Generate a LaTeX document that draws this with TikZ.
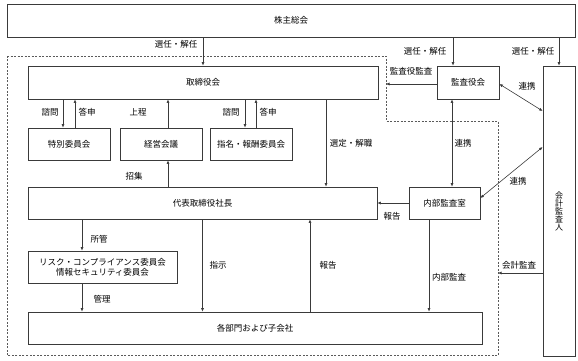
\documentclass[tikz,border=0pt]{standalone}
\usepackage{fontspec}
\setmainfont{Noto Sans CJK JP}
\usetikzlibrary{positioning,arrows.meta,calc}
\definecolor{cLine}{HTML}{3A3A3A}
\definecolor{cFrame}{HTML}{5A5A5A}
\tikzset{
  box/.style={draw=cLine, line width=0.7pt, fill=white, inner sep=0pt,
              font=\fontsize{8.5}{10}\selectfont, align=center},
  flow/.style={-{Latex[length=3.5pt,width=3pt]}, line width=0.6pt, draw=cLine},
  twoway/.style={{Latex[length=3.5pt,width=3pt]}-{Latex[length=3.5pt,width=3pt]},
                 line width=0.6pt, draw=cLine},
  lbl/.style={font=\fontsize{8.5}{10}\selectfont, inner sep=0pt},
  frame/.style={draw=cFrame, line width=0.6pt, dash pattern=on 2pt off 1.5pt},
}

\begin{document}
\begin{tikzpicture}[x=1pt, y=-1pt]
\useasboundingbox (0,0) rectangle (578,360);

% ========== 監査の枠 ==========
\draw[frame] (7,56) -- (386,56) -- (386,121) -- (498,121) -- (498,355) -- (7,355) -- cycle;
\coordinate (kanHit) at (386,84);
\coordinate (accHit) at (498,273);

% ========== 箱 ==========
\node[box, minimum width=568pt, minimum height=33pt] (sh) at (291,20.5) {株主総会};
\node[box, minimum width=350pt, minimum height=33pt] (bd) at (203,82.5) {取締役会};
\node[box, minimum width=62pt, minimum height=33pt] (kan) at (468,82.5) {監査役会};
\node[box, minimum width=32pt, minimum height=290pt,
      font=\fontsize{8}{8}\selectfont] (acc) at (559,211) {会\\計\\監\\査\\人};

\node[box, minimum width=82pt, minimum height=32pt] (tok) at (69,144) {特別委員会};
\node[box, minimum width=82pt, minimum height=32pt] (kei) at (161,144) {経営会議};
\node[box, minimum width=82pt, minimum height=32pt] (shi) at (251,144) {指名・報酬委員会};

\node[box, minimum width=349pt, minimum height=32pt] (pres) at (202.5,203) {代表取締役社長};
\node[box, minimum width=71pt, minimum height=32pt] (ia) at (444.5,203) {内部監査室};

\node[box, minimum width=149pt, minimum height=32pt] (risk) at (102.5,267)
  {リスク・コンプライアンス委員会\\情報セキュリティ委員会};
\node[box, minimum width=454pt, minimum height=32pt] (dept) at (255,328) {各部門および子会社};

% ========== 株主総会から ==========
\draw[flow] (sh.south -| bd.north) -- (bd.north);
\node[lbl] at (176,44) {選任・解任};
\draw[flow] ([xshift=-15pt]kan.north |- sh.south) -- ([xshift=-15pt]kan.north);
\node[lbl] at (425,51) {選任・解任};
\draw[flow] (acc.north |- sh.south) -- (acc.north);
\node[lbl] at (533,51) {選任・解任};

% ========== 監査役会 ==========
\draw[flow] ([yshift=-1.5pt]kan.west) -- ([yshift=-1.5pt]kan.west -| kanHit);
\node[lbl] at (411,71) {監査役監査};
\draw[twoway] ([yshift=-1.5pt]kan.east) -- (acc.west |- 0,111);
\node[lbl] at (527,86) {連携};
\draw[twoway] ([xshift=7.5pt]ia.north |- kan.south) -- ([xshift=7.5pt]ia.north);
\node[lbl] at (463,143) {連携};

% ========== 取締役会と委員会 ==========
\draw[flow] ([xshift=-6pt]tok.north |- bd.south) -- ([xshift=-6pt]tok.north);
\draw[flow] ([xshift=6pt]tok.north) -- ([xshift=6pt]tok.north |- bd.south);
\node[lbl] at (50,112) {諮問};
\node[lbl] at (87,112) {答申};
\draw[flow] ([xshift=7pt]kei.north) -- ([xshift=7pt]kei.north |- bd.south);
\node[lbl] at (138,112) {上程};
\draw[flow] ([xshift=-6pt]shi.north |- bd.south) -- ([xshift=-6pt]shi.north);
\draw[flow] ([xshift=5pt]shi.north) -- ([xshift=5pt]shi.north |- bd.south);
\node[lbl] at (231,112) {諮問};
\node[lbl] at (268,112) {答申};

\draw[flow] ([xshift=123pt]bd.south) -- ([xshift=123pt]bd.south |- pres.north);
\node[lbl] at (351,143) {選定・解職};
\draw[flow] ([xshift=7pt]kei.south |- pres.north) -- ([xshift=7pt]kei.south);
\node[lbl] at (134,176) {招集};

% ========== 内部監査室 ==========
\draw[flow] (ia) -- (pres);
\node[lbl] at (392,216) {報告};
\draw[twoway] (acc.west |- 0,147) -- ([yshift=5pt]ia.east);
\node[lbl] at (518,181) {連携};
\draw[flow] ([xshift=-15.5pt]ia.south) -- ([xshift=-15.5pt]ia.south |- dept.north);
\node[lbl] at (449,277) {内部監査};
\draw[flow] (acc.west |- accHit) -- (accHit);
\node[lbl] at (519,265) {会計監査};

% ========== 社長から ==========
\draw[flow] ([xshift=-20.5pt]risk.north |- pres.south) -- ([xshift=-20.5pt]risk.north);
\node[lbl] at (99,239) {所管};
\draw[flow] ([xshift=-20.5pt]risk.south) -- ([xshift=-20.5pt]risk.south |- dept.north);
\node[lbl] at (102,299) {管理};
\draw[flow] (pres.south) -- (pres.south |- dept.north);
\node[lbl] at (218,265) {指示};
\draw[flow] ([xshift=55pt]dept.north) -- ([xshift=55pt]dept.north |- pres.south);
\node[lbl] at (328,265) {報告};

\end{tikzpicture}
\end{document}
